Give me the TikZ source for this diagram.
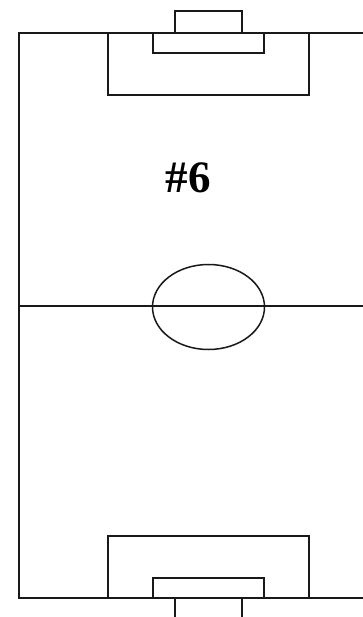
\documentclass[tikz,border=0pt]{standalone}
\usepackage{fontspec}
\setmainfont{LiberationSerif}[Extension=.ttf,UprightFont=*-Regular,BoldFont=*-Bold]
\usetikzlibrary{shapes.geometric}
\begin{document}
\begin{tikzpicture}[x=1pt,y=-1pt,line width=1.4pt,
  pline/.style={draw=black!90,line cap=rect},
  label/.style={font=\fontsize{45}{50}\selectfont\bfseries,inner sep=0pt,anchor=base}]
\useasboundingbox (0,0) rectangle (363,617);
\fill[white] (0,0) rectangle (363,617);
% touchline / goal lines
\coordinate (tr) at (363,33);
\coordinate (tl) at (19,33);
\coordinate (bl) at (19,598);
\coordinate (br) at (363,598);
\draw[pline] (tr) -- (tl) -- (bl) -- (br);
% halfway line
\coordinate (hl) at (19,306);
\coordinate (hr) at (363,306);
\draw[pline] (hl) -- (hr);
% centre circle
\node[draw=black!90,line width=1.5pt,ellipse,minimum width=112pt,minimum height=85pt,inner sep=0pt] (cc) at (208.5,307) {};
% top penalty box
\draw[pline] (108,33) -- (108,95) -- (309,95) -- (309,33);
% top goal area
\draw[pline] (153,33) -- (153,53) -- (264,53) -- (264,33);
% top goal
\draw[pline] (175,33) -- (175,11) -- (242,11) -- (242,33);
% bottom penalty box
\draw[pline] (108,598) -- (108,536) -- (309,536) -- (309,598);
% bottom goal area
\draw[pline] (153,598) -- (153,578) -- (264,578) -- (264,598);
% bottom goal
\draw[pline] (175,598) -- (175,620);
\draw[pline] (242,598) -- (242,620);
% label
\node[label] (num) at (188,193) {\#6};
\end{tikzpicture}
\end{document}
